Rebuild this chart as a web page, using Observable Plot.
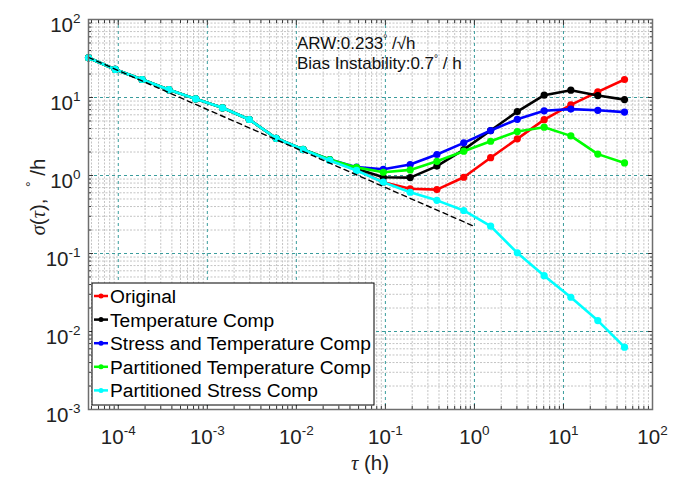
<!DOCTYPE html>
<html><head><meta charset="utf-8">
<script src="https://cdn.jsdelivr.net/npm/d3@7"></script>
<script src="https://cdn.jsdelivr.net/npm/@observablehq/plot@0.6"></script>
<style>
body{margin:0;background:#fff;}
#chart{position:relative;width:684px;height:477px;}
</style></head><body><div id="chart"></div>
<script>
// ---- data ----
const tau = [4.63e-5, 9.26e-5, 1.85e-4, 3.70e-4, 7.41e-4, 1.48e-3, 2.96e-3, 5.93e-3, 1.19e-2, 2.37e-2, 4.74e-2, 9.48e-2, 0.190, 0.379, 0.759, 1.52, 3.03, 6.07, 12.1, 24.3, 48.5];
const original       = [32.3, 22.9, 17.0, 12.6, 9.6, 7.38, 5.22, 3.0, 2.15, 1.57, 1.18, 0.82, 0.675, 0.66, 0.95, 1.69, 2.95, 5.2, 8.06, 11.8, 17.0];
const tempComp       = [32.3, 22.9, 17.0, 12.6, 9.6, 7.38, 5.22, 3.0, 2.15, 1.58, 1.22, 0.95, 0.94, 1.32, 2.15, 3.77, 6.6, 10.7, 12.4, 10.6, 9.4];
const stressTempComp = [32.3, 22.9, 17.0, 12.6, 9.6, 7.38, 5.22, 3.0, 2.16, 1.60, 1.28, 1.20, 1.38, 1.86, 2.62, 3.77, 5.25, 6.75, 7.1, 6.85, 6.5];
const partTempComp   = [32.3, 22.9, 17.0, 12.6, 9.6, 7.38, 5.22, 3.0, 2.16, 1.60, 1.27, 1.10, 1.18, 1.52, 2.05, 2.75, 3.66, 4.16, 3.22, 1.88, 1.45];
const partStressComp = [32.3, 22.9, 17.0, 12.6, 9.6, 7.38, 5.22, 3.0, 2.15, 1.56, 1.16, 0.82, 0.61, 0.48, 0.356, 0.224, 0.102, 0.052, 0.0275, 0.0138, 0.0063];
const seriesNames = ["Original", "Temperature Comp", "Stress and Temperature Comp", "Partitioned Temperature Comp", "Partitioned Stress Comp"];
const seriesColors = ["#ff0000", "#000000", "#0000ff", "#00ff00", "#00ffff"];
const arwTau = [4.63e-5, 1];
const arwSigma = [32.6, 0.222];
const xTicks = [1e-4, 1e-3, 1e-2, 1e-1, 1e0, 1e1, 1e2];
const yTicks = [1e-3, 1e-2, 1e-1, 1e0, 1e1, 1e2];
const xDomain = [4.63e-5, 100];
const yDomain = [1e-3, 100];
const annotationLines = [["ARW:0.233", "°", " /√h"], ["Bias Instability:0.7", "°", " / h"]];

// ---- build ----
const seriesValues = [original, tempComp, stressTempComp, partTempComp, partStressComp];
const tables = seriesNames.map((name, s) => tau.map((t, i) => ({series: name, tau: t, sigma: seriesValues[s][i]})));
const arw = arwTau.map((t, i) => ({tau: t, sigma: arwSigma[i]}));

function minorTicks(domain) {
  const out = [];
  for (let e = Math.floor(Math.log10(domain[0])); e < Math.log10(domain[1]); e++)
    for (let m = 2; m <= 9; m++) { const v = m * 10 ** e; if (v >= domain[0] && v <= domain[1]) out.push(v); }
  return out;
}
const xMinor = minorTicks(xDomain), yMinor = minorTicks(yDomain);
const inner = (ticks, dom) => ticks.filter(d => d > dom[0] * 1.0001 && d < dom[1] / 1.0001);
const expFmt = d => "10^" + Math.round(Math.log10(d));
const noFmt = () => "";
const tickColor = "#333333";
const ax = {label: null, tickFormat: noFmt, stroke: tickColor};

const marks = [
  Plot.gridX(xMinor, {stroke: "#c4c4c4", strokeOpacity: 1, strokeDasharray: "2,1.5"}),
  Plot.gridY(yMinor, {stroke: "#c4c4c4", strokeOpacity: 1, strokeDasharray: "2,1.5"}),
  Plot.gridX(inner(xTicks, xDomain), {stroke: "#3a9c9c", strokeOpacity: 1, strokeDasharray: "3,3"}),
  Plot.gridY(inner(yTicks, yDomain), {stroke: "#3a9c9c", strokeOpacity: 1, strokeDasharray: "3,3"}),
  Plot.axisX(xMinor, {anchor: "bottom", tickSize: -3, ...ax}),
  Plot.axisX(xMinor, {anchor: "top", tickSize: -3, ...ax}),
  Plot.axisX(xTicks, {anchor: "bottom", tickSize: -5, ...ax}),
  Plot.axisX(xTicks, {anchor: "top", tickSize: -5, ...ax}),
  Plot.axisY(yMinor, {anchor: "left", tickSize: -3, ...ax}),
  Plot.axisY(yMinor, {anchor: "right", tickSize: -3, ...ax}),
  Plot.axisY(yTicks, {anchor: "left", tickSize: -5, ...ax}),
  Plot.axisY(yTicks, {anchor: "right", tickSize: -5, ...ax}),
  Plot.axisX(xTicks, {anchor: "bottom", label: null, tickSize: 0, tickPadding: 34, tickFormat: expFmt, fontSize: 20.5, fill: "#222"}),
  Plot.axisY(yTicks, {anchor: "left", label: null, tickSize: 0, tickPadding: 8, tickFormat: expFmt, fontSize: 20.5, fill: "#222"})
];
tables.forEach((rows, s) => {
  marks.push(Plot.line(rows, {x: "tau", y: "sigma", stroke: seriesColors[s], strokeWidth: 2.6}));
  marks.push(Plot.dot(rows, {x: "tau", y: "sigma", fill: seriesColors[s], r: 3.6}));
});
marks.push(Plot.line(arw, {x: "tau", y: "sigma", stroke: "black", strokeWidth: 1.4, strokeDasharray: "5,4"}));
marks.push(Plot.frame({stroke: "#6e6e6e", strokeWidth: 1.5}));

const svg = Plot.plot({
  width: 684, height: 477,
  marginLeft: 88, marginRight: 32, marginTop: 19, marginBottom: 68,
  style: {fontFamily: "'Liberation Sans', Arial, sans-serif", background: "white", overflow: "visible"},
  x: {type: "log", domain: xDomain, axis: null, label: null},
  y: {type: "log", domain: yDomain, axis: null, label: null},
  marks
});
document.getElementById("chart").appendChild(svg);

// superscript tick labels
const S = d3.select(svg);
S.selectAll("text").each(function() {
  const t = this.textContent;
  if (!t.startsWith("10^")) return;
  const isY = this.closest("g").getAttribute("text-anchor") === "end" || (this.getAttribute("text-anchor") === "end");
  const [b, e] = t.split("^");
  const el = d3.select(this);
  el.text(null).attr("y", isY ? 12.5 : 0);
  el.append("tspan").text(b);
  el.append("tspan").attr("dy", -9).attr("font-size", 13.5).text(e);
});

const F = "'Liberation Sans', Arial, sans-serif";
const SERIF = "'Liberation Serif', 'DejaVu Serif', serif";
// y label
const yl = S.append("text").attr("transform", "translate(45,197) rotate(-90)")
  .attr("text-anchor", "middle").attr("font-size", 20.5).attr("fill", "#222").attr("font-family", F);
yl.append("tspan").attr("font-family", SERIF).attr("font-style", "italic").text("σ");
yl.append("tspan").text("(");
yl.append("tspan").attr("font-family", SERIF).attr("font-style", "italic").text("τ");
yl.append("tspan").text("),  ");
yl.append("tspan").attr("dy", -9).attr("font-size", 14).text("°");
yl.append("tspan").attr("dy", 9).text(" /h");
// x label
const xl = S.append("text").attr("x", 370).attr("y", 470).attr("text-anchor", "middle")
  .attr("font-size", 20.5).attr("fill", "#222").attr("font-family", F);
xl.append("tspan").attr("font-family", SERIF).attr("font-style", "italic").text("τ");
xl.append("tspan").text(" (h)");
// annotation
annotationLines.forEach((parts, i) => {
  const t = S.append("text").attr("x", 297).attr("y", 49 + 20 * i).attr("font-size", 17)
    .attr("text-anchor", "start").attr("fill", "#111").attr("font-family", F);
  t.append("tspan").text(parts[0]);
  t.append("tspan").attr("dy", -7).attr("font-size", 10).text(parts[1]);
  t.append("tspan").attr("dy", 7).text(parts[2]);
});
// legend
const lg = S.append("g").attr("font-family", F).attr("text-anchor", "start");
lg.append("rect").attr("x", 92).attr("y", 283).attr("width", 282).attr("height", 122)
  .attr("fill", "white").attr("stroke", "#000").attr("stroke-width", 1);
seriesNames.forEach((name, i) => {
  const by = 303 + 23.6 * i;
  lg.append("line").attr("x1", 94).attr("x2", 108).attr("y1", by - 7).attr("y2", by - 7)
    .attr("stroke", seriesColors[i]).attr("stroke-width", 2.5);
  lg.append("circle").attr("cx", 101).attr("cy", by - 7).attr("r", 2.5).attr("fill", seriesColors[i]);
  lg.append("text").attr("x", 110).attr("y", by).attr("font-size", 19.2).attr("fill", "#000").text(name);
});
</script></body></html>
